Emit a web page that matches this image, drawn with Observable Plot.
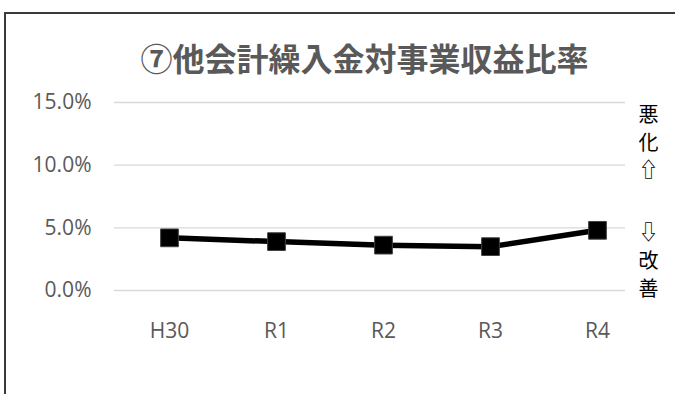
<!DOCTYPE html>
<html>
<head>
<meta charset="utf-8">
<script src="https://cdn.jsdelivr.net/npm/d3@7"></script>
<script src="https://cdn.jsdelivr.net/npm/@observablehq/plot@0.6"></script>
<style>
  html, body { margin: 0; padding: 0; background: #fff; }
  body { width: 675px; height: 394px; overflow: hidden; position: relative; }
  #frame { position: absolute; left: 4px; top: 12px; width: 800px; height: 500px;
           border-left: 2px solid #3a3a3a; border-top: 2px solid #3a3a3a; box-sizing: border-box; }
  #title { position: absolute; left: 0; top: 41px; width: 729px; text-align: center;
           font-family: "Noto Sans CJK JP", sans-serif; font-weight: bold; font-size: 32px;
           line-height: 32px; color: #595959; white-space: nowrap; }
  #chart { position: absolute; left: 0; top: 80px; }
</style>
</head>
<body>
<div id="frame"></div>
<div id="title">⑦他会計繰入金対事業収益比率</div>
<div id="chart"></div>
<script>
const categories = ["H30", "R1", "R2", "R3", "R4"];
const values = [0.0420, 0.0390, 0.0362, 0.0350, 0.0480];
const yTicks = [0, 0.05, 0.10, 0.15];
const labelTop = ["悪", "化", "⇧"];
const labelBottom = ["⇩", "改", "善"];

const data = categories.map((c, i) => ({cat: c, value: values[i]}));

const chart = Plot.plot({
  width: 675,
  height: 314,
  marginTop: 22,
  marginBottom: 104,
  marginLeft: 114,
  marginRight: 50,
  style: {fontFamily: "'Open Sans', sans-serif", background: "transparent", overflow: "visible"},
  x: {type: "point", domain: categories, padding: 0.38, align: 0.659, label: null},
  y: {domain: [0, 0.15], label: null},
  marks: [
    Plot.gridY(yTicks, {stroke: "#d9d9d9", strokeOpacity: 1, strokeWidth: 1.3}),
    Plot.axisY(yTicks, {tickSize: 0, tickPadding: 23, fontSize: 21, fill: "#595959",
      tickFormat: d3.format(".1%"), label: null}),
    Plot.axisX({tickSize: 0, tickPadding: 33, fontSize: 21, fill: "#595959", label: null}),
    Plot.line(data, {x: "cat", y: "value", stroke: "#000", strokeWidth: 5.5}),
    Plot.dot(data, {x: "cat", y: "value", symbol: "square", r: 10, fill: "#000",
      stroke: "#404040", strokeWidth: 1}),
    Plot.text([labelTop.join("\n")], {frameAnchor: "top-right", text: d => d, dx: 23,
      textAnchor: "middle", lineAnchor: "top", lineHeight: 1.38, fontSize: 20,
      fill: "#000", fontFamily: "'Noto Sans CJK JP', sans-serif"}),
    Plot.text([labelBottom.join("\n")], {frameAnchor: "bottom-right", text: d => d, dx: 23, dy: 5,
      textAnchor: "middle", lineAnchor: "bottom", lineHeight: 1.38, fontSize: 20,
      fill: "#000", fontFamily: "'Noto Sans CJK JP', sans-serif"})
  ]
});
document.getElementById("chart").appendChild(chart);
</script>
</body>
</html>
